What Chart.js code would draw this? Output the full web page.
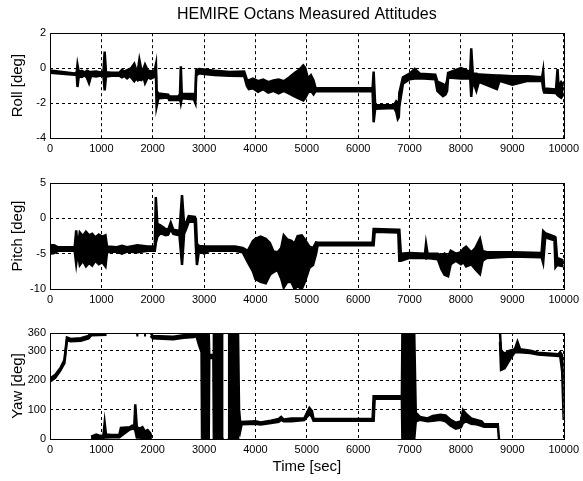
<!DOCTYPE html>
<html>
<head>
<meta charset="utf-8">
<script src="https://cdn.jsdelivr.net/npm/chart.js@4"></script>
<style>
  body { margin: 0; background: #fff; }
  canvas { position: absolute; left: 0; }
</style>
</head>
<body>
<canvas id="rollChart" width="583" height="160" style="top:0px"></canvas>
<canvas id="pitchChart" width="583" height="150" style="top:160px"></canvas>
<canvas id="yawChart" width="583" height="171" style="top:310px"></canvas>
<script>
// time axis
const xTicks = [0, 1000, 2000, 3000, 4000, 5000, 6000, 7000, 8000, 9000, 10000];
const rollTicks = [-4, -2, 0, 2];
const pitchTicks = [-10, -5, 0, 5];
const yawTicks = [0, 100, 200, 300, 360];

// Roll [deg]: upper / lower edge of the trace
const rollTime = [0, 480, 520, 535, 560, 620, 680, 720, 760, 800,
  900, 980, 1040, 1064, 1090, 1200, 1350, 1400, 1450, 1500,
  1550, 1580, 1640, 1680, 1710, 1740, 1780, 1820, 1850, 1900,
  1960, 2040, 2063, 2075, 2110, 2300, 2320, 2500, 2530, 2547,
  2565, 2800, 2830, 2845, 2900, 3000, 3200, 3500, 3780, 3830,
  3870, 3950, 4050, 4150, 4250, 4350, 4450, 4550, 4650, 4750,
  4850, 4930, 4970, 5020, 5080, 5130, 5170, 6280, 6300, 6330,
  6700, 6740, 6770, 6790, 6800, 6870, 7000, 7100, 7200, 7500,
  7540, 7650, 7700, 7730, 7750, 8000, 8180, 8200, 8230, 8300,
  8350, 8700, 8750, 9000, 9300, 9580, 9600, 9620, 9850, 9880,
  9900, 9950, 10000];
const rollHigh = [-0.14, -0.3, -0.25, 0.19, -0.2, -0.15, -0.25, -0.15, -0.2, -0.22,
  -0.2, -0.25, -0.22, 0.95, -0.24, -0.27, -0.27, -0.1, -0.2, -0.12,
  -0.05, 0.0, 0.25, -0.12, -0.15, 0.47, -0.12, -0.05, 0.2, -0.12,
  -0.2, -0.12, 0.22, -1.3, -1.45, -1.52, -1.62, -1.62, -1.48, 0.1,
  -1.48, -1.48, -1.62, -0.12, -0.05, -0.08, -0.15, -0.22, -0.2, -0.65,
  -0.7, -0.6, -0.75, -0.65, -0.8, -0.7, -0.65, -0.75, -0.55, -0.3,
  -0.1, 0.15, 0.0, -0.6, -0.4, -0.7, -1.15, -1.15, -0.2, -2.12,
  -2.12, -1.9, -2.0, -2.2, -1.42, -0.52, -0.32, -0.05, -0.32, -0.37,
  -0.77, -0.92, -1.02, -0.72, -0.27, 0.0, -0.22, 1.13, -0.32, -0.32,
  -0.37, -0.42, -0.42, -0.47, -0.47, -0.52, -0.15, -1.17, -1.22, -0.05,
  -1.1, -0.8, -1.0];
const rollLow = [-0.26, -0.38, -0.4, -1.08, -0.46, -0.5, -0.4, -0.55, -0.85, -0.43,
  -0.48, -0.42, -0.43, -1.27, -0.48, -0.43, -0.43, -0.53, -0.45, -0.58,
  -0.45, -0.53, -0.75, -0.58, -0.7, -0.65, -0.68, -0.5, -0.85, -0.53,
  -0.6, -0.48, -0.48, -2.2, -1.72, -1.68, -1.83, -1.83, -1.72, -2.0,
  -1.72, -1.78, -2.0, -0.43, -0.3, -0.33, -0.4, -0.43, -0.45, -1.0,
  -1.2, -1.15, -1.35, -1.2, -1.4, -1.3, -1.45, -1.3, -1.45, -1.6,
  -1.75, -1.85, -1.7, -1.4, -1.3, -1.5, -1.32, -1.32, -3.1, -2.33,
  -2.28, -2.5, -2.9, -2.8, -2.2, -0.9, -0.63, -0.6, -0.58, -0.63,
  -1.3, -1.6, -1.5, -1.3, -0.53, -0.6, -0.58, -1.65, -0.68, -1.3,
  -0.78, -1.2, -0.73, -0.95, -0.73, -0.73, -1.2, -1.4, -1.43, -1.55,
  -1.6, -1.7, -1.5];

// Pitch [deg]
const pitchTime = [0, 80, 160, 480, 510, 540, 580, 640, 700, 760,
  820, 880, 950, 1020, 1080, 1110, 1300, 1400, 1500, 1700,
  1900, 2040, 2060, 2090, 2150, 2250, 2300, 2350, 2400, 2520,
  2570, 2610, 2650, 2700, 2820, 2840, 2860, 2900, 3000, 3100,
  3600, 3750, 3850, 3950, 4000, 4100, 4200, 4280, 4350, 4430,
  4500, 4550, 4620, 4700, 4760, 4820, 4900, 4960, 5050, 5120,
  5180, 5210, 6280, 6300, 6320, 6780, 6800, 6830, 7000, 7300,
  7320, 7350, 7550, 7620, 7680, 7750, 7800, 7900, 8000, 8050,
  8100, 8200, 8280, 8370, 8420, 8500, 9000, 9570, 9600, 9640,
  9820, 9840, 9870, 10000];
const pitchHigh = [-3.8, -3.8, -4.1, -4.1, -1.7, -4.1, -2.0, -2.5, -1.9, -2.4,
  -2.2, -2.7, -2.3, -2.6, -2.4, -4.0, -4.1, -3.9, -4.1, -3.8,
  -4.0, -4.0, 3.0, -0.8, -1.0, -1.5, -1.6, -0.6, -1.6, -1.8,
  3.3, -0.9, -0.6, 0.3, 0.2, -0.2, -3.6, -3.9, -4.0, -4.0,
  -4.0, -4.2, -4.6, -3.2, -2.9, -2.6, -2.9, -3.5, -4.7, -4.8,
  -4.2, -2.4, -3.0, -3.2, -3.6, -2.5, -2.4, -3.0, -4.0, -4.2,
  -3.4, -3.45, -3.45, -1.5, -1.5, -1.6, -1.6, -5.0, -4.9, -5.0,
  -3.6, -5.0, -5.0, -5.3, -5.0, -5.4, -4.6, -5.0, -4.8, -4.3,
  -4.0, -4.8, -4.2, -2.9, -4.6, -4.8, -4.8, -4.9, -1.8, -2.1,
  -2.6, -2.7, -5.6, -6.0];
const pitchLow = [-5.0, -4.9, -4.6, -4.6, -6.4, -4.7, -6.6, -6.0, -6.8, -6.3,
  -6.7, -6.0, -6.5, -6.2, -6.8, -4.8, -4.7, -5.0, -4.7, -4.8,
  -4.6, -4.6, -3.5, -2.6, -2.1, -2.4, -2.3, -1.5, -2.2, -2.4,
  -6.6, -2.2, -1.5, -0.5, -0.5, -4.0, -6.6, -4.6, -5.0, -4.6,
  -4.6, -4.8, -6.2, -7.5, -8.6, -9.0, -9.2, -8.0, -7.6, -7.3,
  -8.5, -9.8, -9.0, -9.0, -10.0, -9.6, -10.0, -9.0, -7.0, -6.6,
  -5.0, -3.8, -3.8, -3.8, -1.9, -2.0, -6.0, -6.0, -5.6, -5.6,
  -5.7, -5.6, -5.8, -7.2, -8.0, -8.2, -6.5, -6.0, -6.5, -6.2,
  -6.8, -6.5, -7.2, -7.9, -6.0, -5.6, -5.4, -5.5, -6.3, -2.7,
  -3.1, -6.9, -6.6, -6.8];

// Yaw [deg], main trace (null = break)
const yawTime = [0, 100, 200, 280, 330, 400, 600, 750, 800, 1100,
  1120, 1680, 1720, 1740, 1830, 1870, 1900, 1960, 2000, 2400,
  2600, 2800, 2850, 2900, 2950, 2960, 3090, 3100, 3180, 3190,
  3380, 3400, 3460, 3660, 3680, 3700, 3730, 4000, 4100, 4300,
  4450, 4500, 4550, 4700, 4950, 5050, 5100, 5130, 6280, 6300,
  6320, 6850, 6860, 7090, 7120, 7200, 7350, 7450, 7600, 7700,
  7800, 7900, 8000, 8040, 8100, 8200, 8300, 8400, 8450, 8720,
  8740, 8750, 8760, 8780, 8850, 8950, 9050, 9100, 9150, 9350,
  9500, 9900, 9930, 9970, 10000];
const yawHigh = [205, 217, 240, 268, 345, 340, 342, 350, 360, 360,
  null, 360, 360, null, 360, 360, null, 360, 350, 347,
  352, 354, 360, 360, 330, 360, 360, 285, 285, 360,
  360, null, 360, 360, 100, 60, 58, 60, 56, 62,
  68, 75, 66, 70, 70, 105, 95, 68, 68, 145,
  145, 145, 360, 360, 90, 75, 70, 78, 82, 80,
  65, 55, 60, 98, 85, 70, 65, 60, 50, 50,
  50, null, 360, 300, 290, 300, 305, 330, 305, 300,
  293, 288, 295, 285, 200];
const yawLow = [195, 208, 232, 258, 335, 332, 334, 342, 352, 354,
  null, 352, 352, null, 352, 352, null, 350, 342, 339,
  344, 346, 350, 320, 295, 0, 0, 275, 275, 0,
  0, null, 0, 0, 40, 25, 50, 52, 49, 54,
  58, 65, 60, 60, 64, 85, 75, 62, 62, 62,
  137, 137, 0, 0, 60, 65, 60, 62, 65, 60,
  45, 35, 40, 55, 60, 52, 50, 45, 42, 42,
  0, null, 330, 235, 240, 270, 295, 295, 295, 292,
  287, 282, 285, 230, 65];

// Yaw [deg], wrapped branch near 0 between 800 and 2000 sec
const yawLowTime = [800, 900, 950, 1000, 1040, 1064, 1090, 1200, 1350, 1380,
  1550, 1600, 1640, 1660, 1690, 1750, 1800, 1850, 1900, 1950, 1980];
const yawLowHigh = [8, 15, 12, 10, 12, 55, 15, 14, 14, 38,
  40, 45, 42, 118, 40, 35, 40, 25, 30, 20, 5];
const yawLowLow = [2, 0, 2, 3, 4, 5, 5, 6, 6, 10,
  32, 35, 35, 30, 5, 5, 0, 0, 5, 0, 0];

Chart.defaults.font.family = "'Liberation Sans', Arial, sans-serif";
Chart.defaults.color = '#000';

function envelope(times, hi, lo) {
  const pts = arr => times.map((t, i) => ({ x: t, y: arr[i] }));
  const style = {
    borderColor: '#000', backgroundColor: '#000', borderWidth: 2.5,
    pointRadius: 0, tension: 0, spanGaps: false
  };
  return [
    Object.assign({ data: pts(hi), fill: '+1' }, style),
    Object.assign({ data: pts(lo), fill: false }, style)
  ];
}

// MATLAB style box round the axes
const boxPlugin = {
  id: 'box',
  afterDatasetsDraw(chart) {
    const a = chart.chartArea;
    const c = chart.ctx;
    c.save();
    c.strokeStyle = '#000';
    c.lineWidth = 1;
    c.strokeRect(Math.round(a.left) + 0.5, Math.round(a.top) + 0.5,
      Math.round(a.right - a.left), Math.round(a.bottom - a.top));
    c.restore();
  }
};

function makeChart(id, datasets, o) {
  return new Chart(document.getElementById(id), {
    type: 'line',
    data: { datasets: datasets },
    plugins: [boxPlugin],
    options: {
      responsive: false,
      animation: false,
      events: [],
      layout: { padding: { top: o.padTop, right: 16, left: 0, bottom: 0 } },
      plugins: {
        legend: { display: false },
        tooltip: { enabled: false },
        title: o.title ? {
          display: true, text: o.title, fullSize: false,
          font: { size: 16, weight: 'normal' }, color: '#000',
          padding: { top: 5, bottom: 9 }
        } : { display: false }
      },
      scales: {
        x: {
          type: 'linear', min: 0, max: 10000,
          afterBuildTicks: s => { s.ticks = xTicks.map(v => ({ value: v })); },
          afterFit: s => { s.height = o.xHeight; },
          ticks: { autoSkip: false, maxRotation: 0, padding: 4, font: { size: 11 },
            callback: v => String(v) },
          grid: { color: '#000', lineWidth: 1, drawTicks: false },
          border: { display: false, dash: [3, 3] },
          title: o.xTitle ? { display: true, text: o.xTitle, font: { size: 15 },
            padding: { top: 0, bottom: 5 } } : { display: false }
        },
        y: {
          min: o.yTicks[0], max: o.yTicks[o.yTicks.length - 1],
          afterBuildTicks: s => { s.ticks = o.yTicks.map(v => ({ value: v })); },
          afterFit: s => { s.width = 50; },
          ticks: { padding: 4, font: { size: 11 }, callback: v => String(v) },
          grid: { color: '#000', lineWidth: 1, drawTicks: false },
          border: { display: false, dash: [3, 3] },
          title: { display: true, text: o.yTitle, font: { size: 15 },
            padding: { top: 9, bottom: 0 } }
        }
      }
    }
  });
}

makeChart('rollChart', envelope(rollTime, rollHigh, rollLow), {
  title: 'HEMIRE Octans Measured Attitudes', padTop: 0, xHeight: 22,
  yTicks: rollTicks, yTitle: 'Roll [deg]'
});
makeChart('pitchChart', envelope(pitchTime, pitchHigh, pitchLow), {
  padTop: 23, xHeight: 21, yTicks: pitchTicks, yTitle: 'Pitch [deg]'
});
makeChart('yawChart',
  envelope(yawTime, yawHigh, yawLow).concat(envelope(yawLowTime, yawLowHigh, yawLowLow)), {
  padTop: 23, xHeight: 42, yTicks: yawTicks, yTitle: 'Yaw [deg]', xTitle: 'Time [sec]'
});
</script>
</body>
</html>
